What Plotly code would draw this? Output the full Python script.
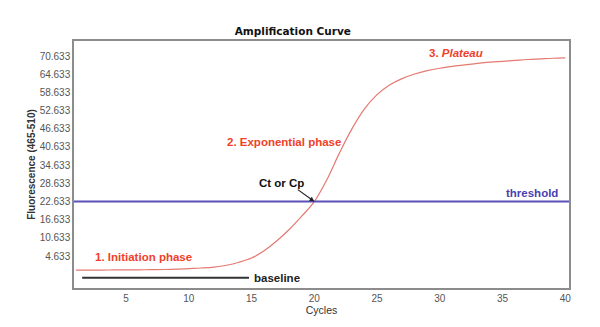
import plotly.graph_objects as go

# PCR amplification curve: fluorescence per cycle
cycles = list(range(1, 41))
fluorescence = [
    0.0, 0.0, 0.0, 0.05, 0.1, 0.1, 0.15, 0.2, 0.3, 0.5,
    0.7, 1.0, 1.6, 2.6, 4.0, 6.4, 9.6, 13.4, 17.8, 22.6,
    29.8, 38.6, 46.6, 53.2, 57.9, 61.1, 63.2, 64.7, 65.8, 66.6,
    67.2, 67.7, 68.2, 68.6, 68.9, 69.2, 69.5, 69.7, 69.9, 70.0,
]
threshold = 22.633
baseline_level = -2.55
baseline_cycles = [1.5, 14.8]
ct_cycle = 20.0

y_ticks = [4.633, 10.633, 16.633, 22.633, 28.633, 34.633, 40.633,
           46.633, 52.633, 58.633, 64.633, 70.633]
x_ticks = [5, 10, 15, 20, 25, 30, 35, 40]

x_range = [0.85, 40.3]
y_range = [-5.9, 75.6]

RED = "#f0402a"
FONT = "Liberation Sans, Arial, sans-serif"

fig = go.Figure()

# amplification curve
fig.add_trace(go.Scatter(
    x=cycles, y=fluorescence, mode="lines",
    line=dict(color="#e47a72", width=1.2, shape="spline", smoothing=1.0),
    hoverinfo="skip", showlegend=False,
))

# threshold line
fig.add_trace(go.Scatter(
    x=x_range, y=[threshold, threshold], mode="lines",
    line=dict(color="#5a50b8", width=2),
    hoverinfo="skip", showlegend=False,
))

# baseline segment
fig.add_trace(go.Scatter(
    x=baseline_cycles, y=[baseline_level, baseline_level], mode="lines",
    line=dict(color="#333333", width=2),
    hoverinfo="skip", showlegend=False,
))

annotations = [
    dict(x=6.4, y=4.3, text="<b>1. Initiation phase</b>",
         font=dict(color=RED, size=11.5)),
    dict(x=17.6, y=42.3, text="<b>2. Exponential phase</b>",
         font=dict(color=RED, size=11.5)),
    dict(x=31.3, y=71.7, text="<b>3. <i>Plateau</i></b>",
         font=dict(color=RED, size=11.5)),
    dict(x=39.6, y=25.6, text="<b>threshold</b>", xanchor="right",
         font=dict(color="#4a3fb0", size=11.5)),
    dict(x=15.0, y=baseline_level, text="<b>baseline</b>", xanchor="left",
         font=dict(color="#222222", size=11.5)),
    dict(x=17.4, y=28.8, text="<b>Ct or Cp</b>",
         font=dict(color="#111111", size=11.5)),
    # arrow pointing at the threshold crossing
    dict(x=ct_cycle, y=threshold, text="", showarrow=True,
         ax=-18, ay=-13, arrowhead=2, arrowsize=0.8, arrowwidth=1.2,
         arrowcolor="#222222", standoff=0, font=dict(size=10)),
]
for a in annotations:
    a.setdefault("showarrow", False)
    a["xref"] = "x"
    a["yref"] = "y"
    a["font"]["family"] = FONT

fig.update_layout(
    width=600, height=327,
    margin=dict(l=74, r=31, t=41, b=39),
    paper_bgcolor="white", plot_bgcolor="white",
    font=dict(family=FONT, color="#555555", size=10),
    title=dict(text="<b>Amplification Curve</b>",
               x=0.488, xanchor="center", y=0.905, yanchor="middle",
               font=dict(family="DejaVu Sans, sans-serif", size=10.5,
                         color="#111111")),
    annotations=annotations,
    xaxis=dict(
        range=x_range, tickvals=x_ticks, ticks="", showgrid=False,
        zeroline=False, showline=True, mirror=True,
        linecolor="#8c8c8c", linewidth=1.5,
        tickfont=dict(size=10, color="#555555"),
        title=dict(text="Cycles", standoff=2,
                   font=dict(size=10.5, color="#333333")),
    ),
    yaxis=dict(
        range=y_range, tickvals=y_ticks,
        ticktext=[f"{v:.3f}" for v in y_ticks],
        ticks="", showgrid=False, zeroline=False, showline=True, mirror=True,
        linecolor="#8c8c8c", linewidth=1.5,
        tickfont=dict(size=10, color="#555555"),
        title=dict(text="<b>Fluorescence (465-510)</b>", standoff=2,
                   font=dict(size=10, color="#333333")),
    ),
)

fig.write_html("out.html")
